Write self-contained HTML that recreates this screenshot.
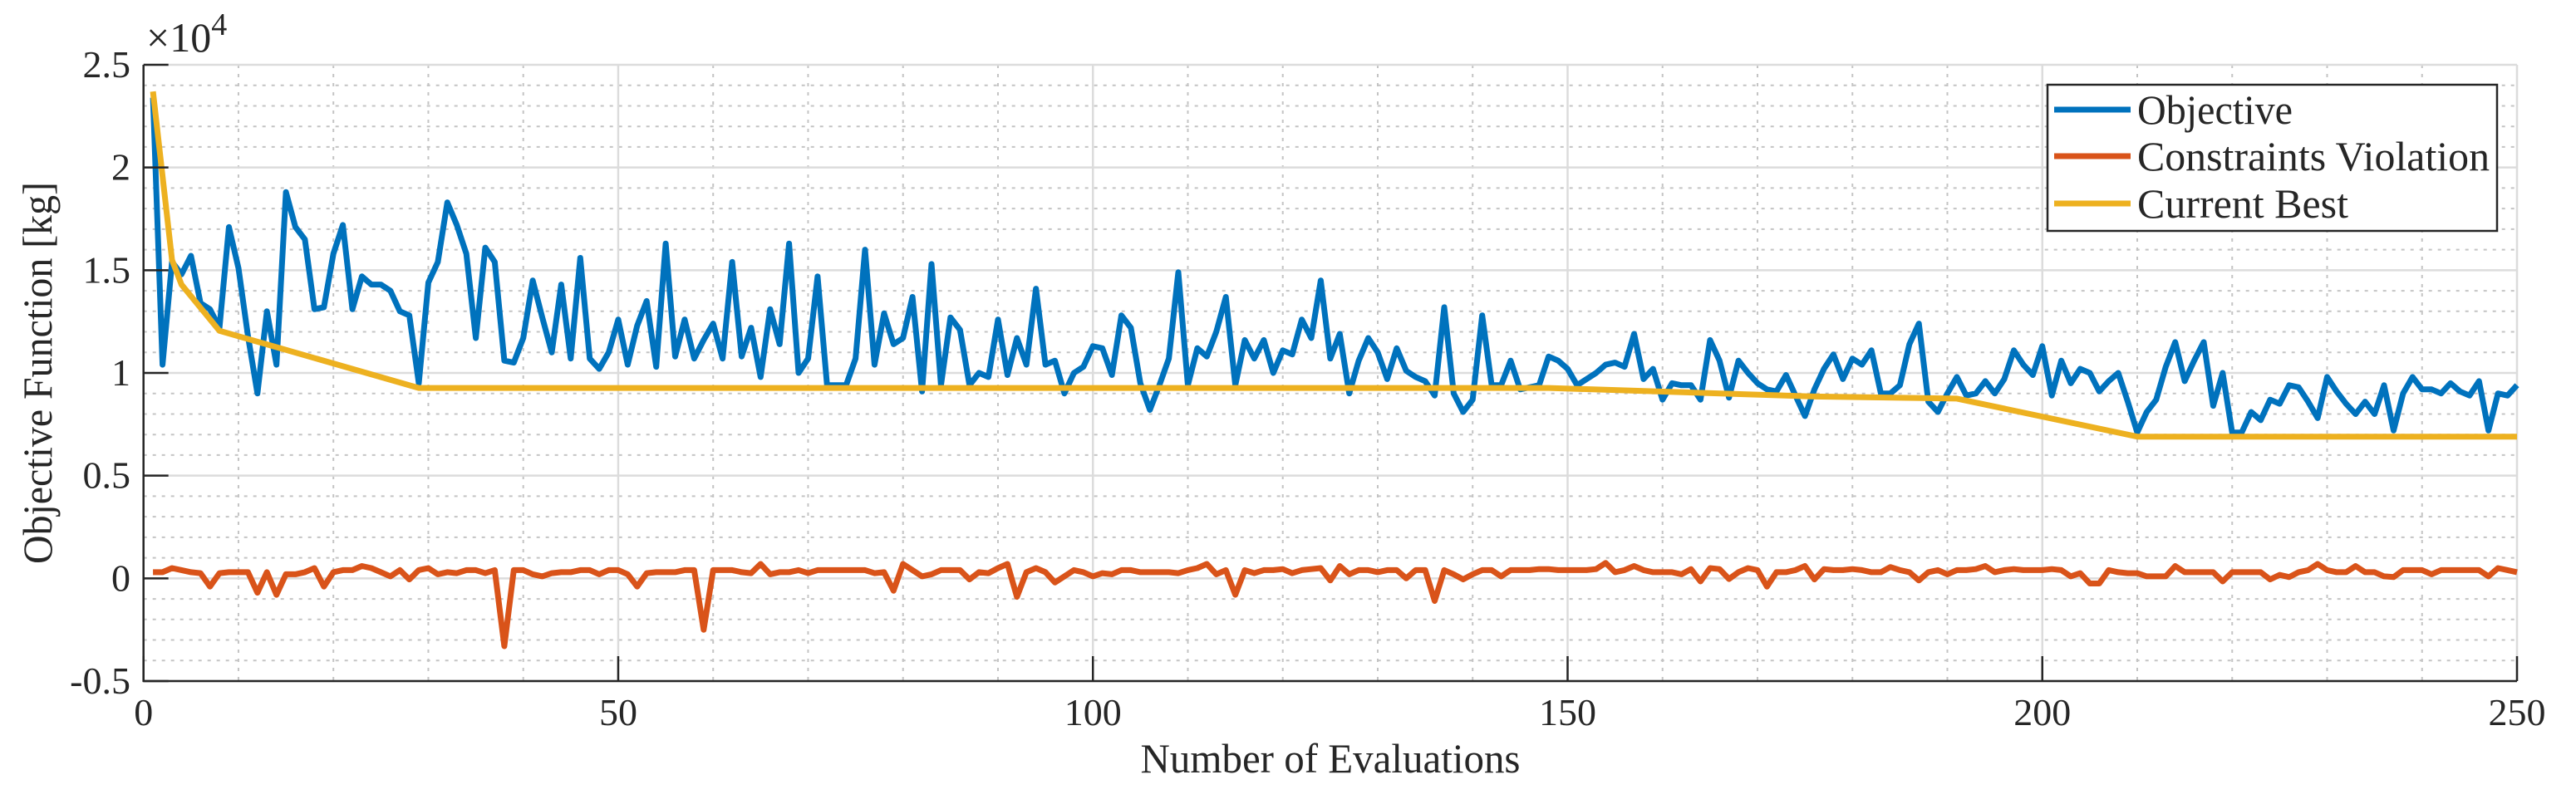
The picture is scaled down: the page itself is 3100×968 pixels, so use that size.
<!DOCTYPE html>
<html><head><meta charset="utf-8"><style>
html,body{margin:0;padding:0;background:#fff;width:3100px;height:968px;overflow:hidden}
svg{display:block}
text{font-family:"Liberation Serif",serif;fill:#262626}
</style></head><body>
<svg id="chart" width="3100" height="968" viewBox="0 0 3100 968" xmlns="http://www.w3.org/2000/svg">
<g id="grid"></g>
<g id="series"></g>
<g id="axes"></g>
<text x="176" y="62" font-size="50">×10<tspan font-size="38" dy="-20">4</tspan></text>
<text x="1601" y="930" font-size="50" text-anchor="middle" textLength="457" lengthAdjust="spacingAndGlyphs">Number of Evaluations</text>
<text transform="translate(62,449) rotate(-90)" font-size="50" text-anchor="middle" textLength="460" lengthAdjust="spacingAndGlyphs">Objective Function [kg]</text>
<g>
<rect x="2464" y="102" width="541" height="176" fill="#fff" stroke="#262626" stroke-width="2.5"/>
<line x1="2472" y1="132" x2="2564" y2="132" stroke="#0072BD" stroke-width="7"/>
<text x="2572" y="149" font-size="50" textLength="187" lengthAdjust="spacingAndGlyphs" fill="#000">Objective</text>
<line x1="2472" y1="188" x2="2564" y2="188" stroke="#D95319" stroke-width="7"/>
<text x="2572" y="205" font-size="50" textLength="424" lengthAdjust="spacingAndGlyphs" fill="#000">Constraints Violation</text>
<line x1="2472" y1="245" x2="2564" y2="245" stroke="#EDB120" stroke-width="7"/>
<text x="2572" y="262" font-size="50" textLength="254" lengthAdjust="spacingAndGlyphs" fill="#000">Current Best</text>
</g>
</svg>
<script>
const objective = [2.34,1.04,1.54,1.48,1.57,1.34,1.31,1.22,1.71,1.51,1.18,0.90,1.30,1.04,1.88,1.71,1.65,1.31,1.32,1.58,1.72,1.31,1.47,1.43,1.43,1.40,1.30,1.28,0.95,1.44,1.54,1.83,1.72,1.58,1.17,1.61,1.54,1.06,1.05,1.17,1.45,1.27,1.10,1.43,1.07,1.56,1.07,1.02,1.10,1.26,1.04,1.23,1.35,1.03,1.63,
1.08,1.26,1.07,1.16,1.24,1.07,1.54,1.08,1.22,0.98,1.31,1.14,1.63,1.00,1.07,1.47,0.94,0.94,0.94,1.07,1.60,1.04,1.29,1.14,1.17,1.37,0.91,1.53,0.94,1.27,1.21,0.94,1.00,0.98,1.26,0.99,1.17,1.04,1.41,1.04,1.06,0.90,1.00,1.03,1.13,1.12,0.99,1.28,1.22,0.95,0.82,0.94,1.07,1.49,0.94,
1.12,1.08,1.20,1.37,0.94,1.16,1.07,1.16,1.00,1.11,1.09,1.26,1.17,1.45,1.07,1.19,0.90,1.06,1.17,1.10,0.97,1.12,1.01,0.98,0.96,0.89,1.32,0.90,0.81,0.87,1.28,0.94,0.94,1.06,0.92,0.93,0.94,1.08,1.06,1.02,0.94,0.97,1.00,1.04,1.05,1.03,1.19,0.97,1.02,0.87,0.95,0.94,0.94,0.87,1.16,
1.06,0.88,1.06,1.00,0.95,0.92,0.91,0.99,0.89,0.79,0.92,1.02,1.09,0.97,1.07,1.04,1.11,0.90,0.90,0.94,1.14,1.24,0.86,0.81,0.90,0.98,0.89,0.90,0.96,0.90,0.97,1.11,1.04,0.99,1.13,0.89,1.06,0.95,1.02,1.00,0.91,0.96,1.00,0.86,0.71,0.81,0.87,1.03,1.15,0.96,1.06,1.15,0.84,1.00,0.71,
0.71,0.81,0.77,0.87,0.85,0.94,0.93,0.86,0.78,0.98,0.91,0.85,0.80,0.86,0.80,0.94,0.72,0.90,0.98,0.92,0.92,0.90,0.95,0.91,0.89,0.96,0.72,0.90,0.89,0.94];
const violation = [0.03,0.03,0.05,0.04,0.03,0.025,-0.04,0.025,0.03,0.03,0.03,-0.07,0.03,-0.08,0.02,0.02,0.03,0.05,-0.04,0.03,0.04,0.04,0.06,0.05,0.03,0.01,0.04,-0.005,0.04,0.05,0.02,0.03,0.025,0.04,0.04,0.025,0.04,-0.33,0.04,0.04,0.02,0.01,0.025,0.03,0.03,0.04,0.04,0.02,0.04,0.04,0.02,-0.04,0.025,0.03,0.03,
0.03,0.04,0.04,-0.25,0.04,0.04,0.04,0.03,0.025,0.07,0.02,0.03,0.03,0.04,0.025,0.04,0.04,0.04,0.04,0.04,0.04,0.025,0.03,-0.06,0.07,0.04,0.01,0.02,0.04,0.04,0.04,-0.005,0.03,0.025,0.05,0.07,-0.09,0.03,0.05,0.03,-0.02,0.01,0.04,0.03,0.01,0.025,0.02,0.04,0.04,0.03,0.03,0.03,0.03,0.025,0.04,
0.05,0.07,0.02,0.04,-0.08,0.04,0.025,0.04,0.04,0.045,0.025,0.04,0.045,0.05,-0.01,0.06,0.02,0.04,0.04,0.03,0.04,0.04,0.0,0.04,0.04,-0.11,0.04,0.02,-0.005,0.02,0.04,0.04,0.01,0.04,0.04,0.04,0.045,0.045,0.04,0.04,0.04,0.04,0.045,0.075,0.03,0.04,0.06,0.04,0.03,0.03,0.03,0.02,0.045,-0.015,0.05,
0.045,-0.003,0.03,0.05,0.04,-0.04,0.03,0.03,0.04,0.06,-0.005,0.045,0.04,0.04,0.045,0.04,0.03,0.03,0.055,0.04,0.03,-0.01,0.03,0.04,0.02,0.04,0.04,0.045,0.06,0.03,0.04,0.045,0.04,0.04,0.04,0.045,0.04,0.01,0.025,-0.025,-0.025,0.04,0.03,0.025,0.025,0.01,0.01,0.01,0.06,0.03,0.03,0.03,0.03,-0.015,0.03,
0.03,0.03,0.03,-0.005,0.017,0.006,0.03,0.04,0.07,0.04,0.03,0.03,0.06,0.03,0.03,0.01,0.006,0.04,0.04,0.04,0.02,0.04,0.04,0.04,0.04,0.04,0.01,0.05,0.04,0.03];
const bestEvals = [1,3,4,8,29,148,176,191,210,250];
const bestValues = [2.37,1.55,1.43,1.205,0.927,0.927,0.885,0.875,0.69,0.69];
const xTicks = [0,50,100,150,200,250];
const yTicks = [-0.5,0,0.5,1,1.5,2,2.5];
const yTickLabels = ["-0.5","0","0.5","1","1.5","2","2.5"];

const NS="http://www.w3.org/2000/svg";
const L=172.7,R=3029,T=78,B=820;
const xS=v=>L+(v/250)*(R-L);
const yS=v=>B-((v+0.5)/3)*(B-T);
function mk(tag,attrs,parent){const e=document.createElementNS(NS,tag);for(const k in attrs)e.setAttribute(k,attrs[k]);parent.appendChild(e);return e;}
const grid=document.getElementById('grid'),series=document.getElementById('series'),axes=document.getElementById('axes');
for(let v=10;v<=250;v+=10){if(v%50===0)continue;const g=mk('line',{x1:xS(v),x2:xS(v),y1:T,y2:B,stroke:'#c4c4c4','stroke-width':2,'stroke-dasharray':'4 7'},grid);

}
for(let k=-4;k<=24;k++){if(k%5===0)continue;const v=k/10;const g=mk('line',{x1:L,x2:R,y1:yS(v),y2:yS(v),stroke:'#c4c4c4','stroke-width':2,'stroke-dasharray':'4 7'},grid);

}
xTicks.forEach(v=>{const g=mk('line',{x1:xS(v),x2:xS(v),y1:T,y2:B,stroke:'#dcdcdc','stroke-width':2.5},grid);

});
yTicks.forEach(v=>{const g=mk('line',{x1:L,x2:R,y1:yS(v),y2:yS(v),stroke:'#dcdcdc','stroke-width':2.5},grid);

});
function poly(xs,ys,color,name){const pts=xs.map((x,i)=>xS(x).toFixed(1)+','+yS(ys[i]).toFixed(1)).join(' ');
const p=mk('polyline',{points:pts,fill:'none',stroke:color,'stroke-width':7,'stroke-linejoin':'round'},series);

}
const evals=objective.map((_,i)=>i+1);
poly(evals,objective,'#0072BD','objective-line');
poly(violation.map((_,i)=>i+1),violation,'#D95319','constraints-violation-line');
poly(bestEvals,bestValues,'#EDB120','current-best-line');
const ax1=mk('line',{x1:L,x2:L,y1:T,y2:B+1,stroke:'#262626','stroke-width':2.5},axes);


const ax2=mk('line',{x1:L-1,x2:R,y1:B,y2:B,stroke:'#262626','stroke-width':2.5},axes);


yTicks.forEach((v,i)=>{const t=mk('line',{x1:L,x2:L+30,y1:yS(v),y2:yS(v),stroke:'#262626','stroke-width':2.5},axes);


const tx=mk('text',{x:157,y:yS(v)+15,'font-size':46,'text-anchor':'end'},axes);tx.textContent=yTickLabels[i];

});
xTicks.forEach(v=>{const t=mk('line',{x1:xS(v),x2:xS(v),y1:B,y2:B-30,stroke:'#262626','stroke-width':2.5},axes);


const tx=mk('text',{x:xS(v),y:873,'font-size':46,'text-anchor':'middle'},axes);tx.textContent=String(v);

});
</script>
</body></html>
